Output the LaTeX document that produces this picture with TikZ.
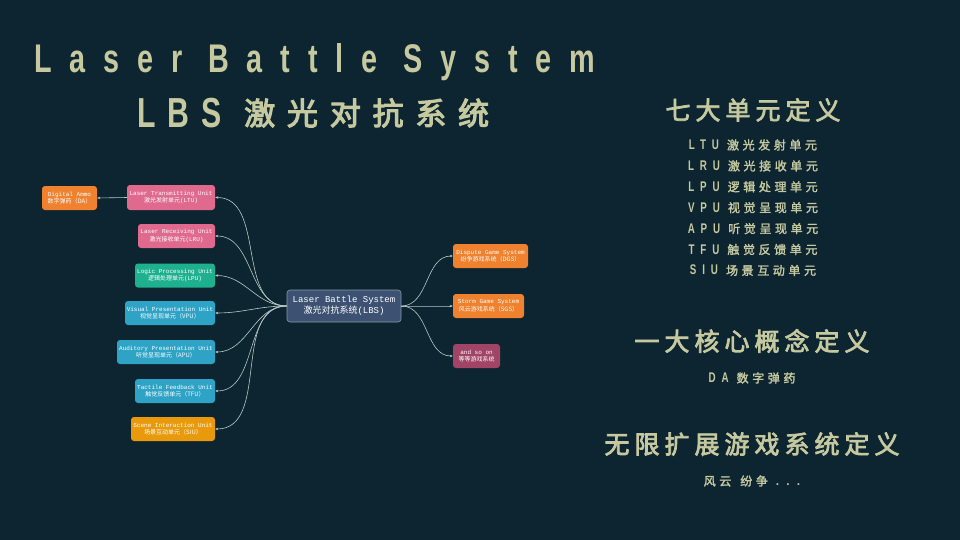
\documentclass[tikz,border=0pt]{standalone}
\usepackage{fontspec}
\usetikzlibrary{arrows.meta}
\setmainfont{Liberation Mono}
\newfontfamily\cjk{Noto Sans CJK SC}
\newfontfamily\ttl{Liberation Sans}[LetterSpace=62]
\newfontfamily\ttlb{Liberation Sans}[LetterSpace=40]
\newfontfamily\cjkt{Noto Sans CJK SC}[FakeBold=3.5,LetterSpace=38]
\newfontfamily\cjkh{Noto Sans CJK SC}[FakeBold=3,LetterSpace=20]
\newfontfamily\cjks{Noto Sans CJK SC}[FakeBold=2,LetterSpace=30]
\newfontfamily\ttls{Liberation Sans}[LetterSpace=60]
\definecolor{bg}{HTML}{0C2530}
\definecolor{tcol}{HTML}{C6C9A0}
\definecolor{pink}{HTML}{E06A8E}
\definecolor{teal}{HTML}{1FB08F}
\definecolor{blu}{HTML}{2EA3C6}
\definecolor{orng}{HTML}{F0812E}
\definecolor{yorng}{HTML}{E89A0C}
\definecolor{maroon}{HTML}{A24465}
\definecolor{slate}{HTML}{3D5273}
\definecolor{line}{HTML}{B8C8C8}
\tikzset{
  box/.style={rounded corners=3pt, inner sep=0pt, text=white, align=center,
    font=\fontsize{6}{7.5}\selectfont},
  link/.style={draw=line, line width=0.6pt, -{Stealth[length=3pt,width=2.5pt]}},
  head/.style={text=tcol, inner sep=0pt},
}
\begin{document}
\begin{tikzpicture}[x=1pt,y=-1pt]
\path[fill=bg, use as bounding box] (0,0) rectangle (960,540);

% titles
\node[head, anchor=west] (t1) at (34,62) {\scalebox{0.72}[1]{\fontsize{40}{40}\selectfont\ttl\bfseries Laser Battle System}};
\node[head, anchor=west] (t2) at (137,113) {\scalebox{0.72}[1]{\fontsize{42}{42}\selectfont\ttlb\bfseries LBS}};
\node[head, anchor=west] (t3) at (244,113) {\fontsize{31}{31}\selectfont\cjkt 激光对抗系统};

% right text
\node[head] (h1) at (753,110) {\fontsize{25}{25}\selectfont\cjkh 七大单元定义};
\foreach \i/\a/\b in {0/LTU/激光发射单元,1/LRU/激光接收单元,2/LPU/逻辑处理单元,3/VPU/视觉呈现单元,4/APU/听觉呈现单元,5/TFU/触觉反馈单元,6/SIU/场景互动单元}{
  \node[head] (r\i) at (753,{145+20.9*\i}) {\scalebox{0.7}[1]{\fontsize{14}{14}\selectfont\ttls\bfseries \a}\hspace{8pt}{\fontsize{12}{12}\selectfont\cjks \b}};
}
\node[head] (h2) at (752,341) {\fontsize{25}{25}\selectfont\cjkh 一大核心概念定义};
\node[head] (d1) at (752,378) {\scalebox{0.7}[1]{\fontsize{14}{14}\selectfont\ttls\bfseries DA}\hspace{8pt}{\fontsize{12}{12}\selectfont\cjks 数字弹药}};
\node[head] (h3) at (752,444) {\fontsize{25}{25}\selectfont\cjkh 无限扩展游戏系统定义};
\node[head] (d2) at (752,481) {{\fontsize{12}{12}\selectfont\cjks 风云}\hspace{9pt}{\fontsize{12}{12}\selectfont\cjks 纷争}\hspace{8pt}{\fontsize{12}{12}\selectfont\ttls\bfseries ...}};

% mind map
\node[box, fill=slate, draw=line!60!slate, line width=0.6pt, minimum width=114pt, minimum height=32pt,
  font=\fontsize{9}{11}\selectfont] (c) at (344,306) {Laser Battle System\\{\cjk 激光对抗系统}(LBS)};

\node[box, fill=pink, minimum width=88pt, minimum height=25pt] (ltu) at (171,197.5) {Laser Transmitting Unit\\{\cjk 激光发射单元}(LTU)};
\node[box, fill=orng, minimum width=55pt, minimum height=24pt] (da) at (69.5,198) {Digital Ammo\\{\cjk 数字弹药（DA）}};
\node[box, fill=pink, minimum width=77pt, minimum height=24pt] (lru) at (176.5,236) {Laser Receiving Unit\\{\cjk 激光接收单元}(LRU)};
\node[box, fill=teal, minimum width=80pt, minimum height=24pt] (lpu) at (175,275.5) {Logic Processing Unit\\{\cjk 逻辑处理单元}(LPU)};
\node[box, fill=blu, minimum width=90pt, minimum height=24pt] (vpu) at (170,313) {Visual Presentation Unit\\{\cjk 视觉呈现单元（VPU）}};
\node[box, fill=blu, minimum width=98pt, minimum height=24pt] (apu) at (166,352) {Auditory Presentation Unit\\{\cjk 听觉呈现单元（APU）}};
\node[box, fill=blu, minimum width=80pt, minimum height=24pt] (tfu) at (175,391) {Tactile Feedback Unit\\{\cjk 触觉反馈单元（TFU）}};
\node[box, fill=yorng, minimum width=84pt, minimum height=24pt] (siu) at (173,429) {Scene Interaction Unit\\{\cjk 场景互动单元（SIU）}};

\node[box, fill=orng, minimum width=75pt, minimum height=24pt] (dgs) at (490.5,256) {Dispute Game System\\{\cjk 纷争游戏系统（DGS）}};
\node[box, fill=orng, minimum width=71pt, minimum height=24pt] (sgs) at (488.5,306) {Storm Game System\\{\cjk 风云游戏系统（SGS）}};
\node[box, fill=maroon, minimum width=47pt, minimum height=24pt] (aso) at (476.5,356) {and so on\\{\cjk 等等游戏系统}};

\foreach \n in {ltu,lru,lpu,vpu,apu,tfu,siu}{
  \draw[link] (c.west) to[out=180,in=0] (\n.east);
}
\foreach \n in {dgs,sgs,aso}{
  \draw[link] (c.east) to[out=0,in=180] (\n.west);
}
\draw[link] (ltu.west) -- (da.east);
\end{tikzpicture}
\end{document}
